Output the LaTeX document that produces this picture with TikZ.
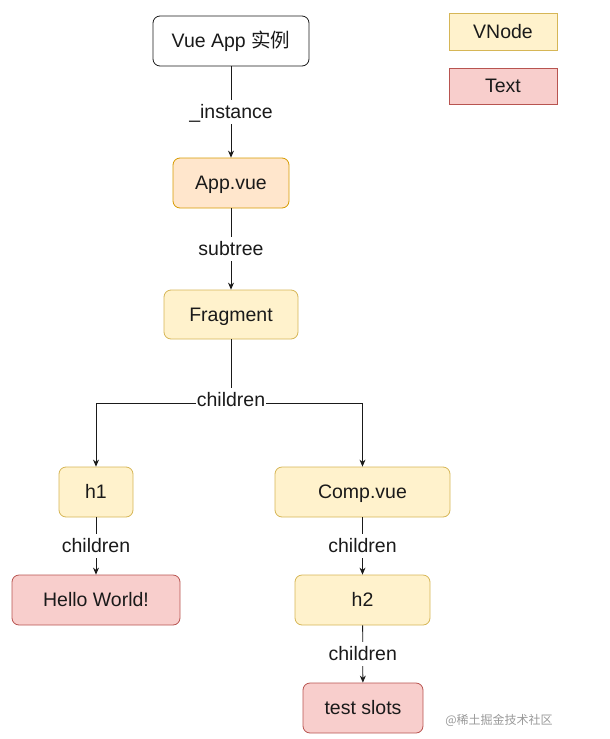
\documentclass[tikz,border=0pt]{standalone}
\usepackage{fontspec}
\setmainfont{Liberation Sans}
\newfontfamily\cjk{Noto Sans CJK SC}
\usetikzlibrary{arrows.meta}
\definecolor{vfill}{HTML}{FFF2CC}
\definecolor{vline}{HTML}{D6B656}
\definecolor{ofill}{HTML}{FFE6CC}
\definecolor{oline}{HTML}{D79B00}
\definecolor{tfill}{HTML}{F8CECC}
\definecolor{tline}{HTML}{B85450}
\definecolor{ink}{HTML}{1A1A1A}
\tikzset{
  base/.style={draw, rounded corners=7pt, line width=0.8pt, inner sep=0pt, text height=17.5pt, text depth=4pt, font=\fontsize{19.5}{22}\selectfont, text=ink},
  whitebox/.style={base, fill=white, draw=ink},
  vnode/.style={base, fill=vfill, draw=vline},
  onode/.style={base, fill=ofill, draw=oline},
  tnode/.style={base, fill=tfill, draw=tline},
  lbl/.style={fill=white, inner sep=1pt, text height=17.5pt, text depth=4pt, font=\fontsize{19.5}{22}\selectfont, text=ink},
  conn/.style={draw=ink, line width=0.8pt, -{Stealth[length=7pt,width=6pt]}},
  plain/.style={draw=ink, line width=0.8pt}
}
\begin{document}
\begin{tikzpicture}[x=1pt,y=-1pt]
\useasboundingbox (0,0) rectangle (610,739);
% nodes
\node[whitebox, minimum width=156pt, minimum height=50pt] (app) at (231,41) {Vue App {\cjk 实例}};
\node[onode, minimum width=116pt, minimum height=50pt] (appvue) at (231,183) {App.vue};
\node[vnode, minimum width=134pt, minimum height=49pt] (frag) at (231,314.5) {Fragment};
\node[vnode, minimum width=74pt, minimum height=50pt] (h1) at (96,492) {h1};
\node[vnode, minimum width=175pt, minimum height=50pt] (comp) at (362.5,492) {Comp.vue};
\node[tnode, minimum width=168pt, minimum height=50pt] (hello) at (96,600) {Hello World!};
\node[vnode, minimum width=135pt, minimum height=50pt] (h2) at (362.5,600) {h2};
\node[tnode, minimum width=120pt, minimum height=50pt] (slots) at (363,708) {test slots};
% legend
\node[vnode, rounded corners=0pt, minimum width=108pt, minimum height=37pt] (lv) at (503,31.5) {VNode};
\node[tnode, rounded corners=0pt, minimum width=108pt, minimum height=36pt] (lt) at (503,86) {Text};
% connectors
\draw[conn] (app) -- node[lbl] {\_instance} (appvue);
\draw[conn] (appvue) -- node[lbl] {subtree} (frag);
\coordinate (j) at (231,403);
\draw[plain] (frag) -- (j);
\draw[conn] (j) -| (h1);
\draw[conn] (j) -| (comp);
\node[lbl] (ch0) at (231,400) {children};
\draw[conn] (h1) -- node[lbl] {children} (hello);
\draw[conn] (comp) -- node[lbl] {children} (h2);
\draw[conn] (h2) -- node[lbl] {children} (slots);
% watermark
\node[text=black!40, font=\cjk\fontsize{12}{14}\selectfont, inner sep=0pt] (wm) at (499,720) {@稀土掘金技术社区};
\end{tikzpicture}
\end{document}
